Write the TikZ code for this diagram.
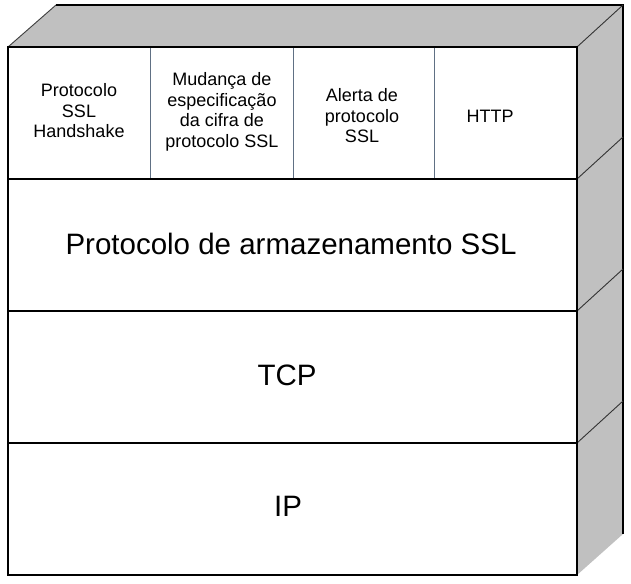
\documentclass[tikz,border=0pt]{standalone}
\usepackage{fontspec}
\setmainfont{Liberation Sans}
\usetikzlibrary{positioning}

\definecolor{facegray}{RGB}{192,192,192}
\definecolor{sepblue}{RGB}{96,112,132}

\tikzset{
    small label/.style={align=center, font=\fontsize{18}{20.5}\selectfont},
    big label/.style={font=\fontsize{29.5}{33}\selectfont},
    frame line/.style={black, line width=1.2pt},
    cell line/.style={sepblue, line width=0.9pt}
}

\begin{document}
\begin{tikzpicture}[x=1pt, y=-1pt]
    \useasboundingbox (0,0) rectangle (631,583);

    % corners of the box
    \coordinate (ftl) at (8,47);
    \coordinate (ftr) at (577,47);
    \coordinate (fbl) at (8,575);
    \coordinate (fbr) at (577,575);
    \coordinate (btl) at (56,5);
    \coordinate (btr) at (623,5);
    \coordinate (bbr) at (623,534);

    % top and side faces
    \fill[facegray] (ftl) -- (btl) -- (btr) -- (ftr) -- cycle;
    \fill[facegray] (ftr) -- (btr) -- (bbr) -- (fbr) -- cycle;
    \draw[line width=0.9pt, black!75] (ftl) -- (btl);
    \draw[frame line] (btl) -- (btr) -- (bbr);
    \draw[line width=0.9pt, black!80] (ftr) -- (btr);

    % front face
    \draw[frame line, fill=white] (ftl) rectangle (fbr);

    % layers
    \foreach \y in {179,311,443} {
        \draw[frame line] (8,\y) -- (577,\y);
        \draw[line width=0.9pt, black!80] (577,\y) -- (623,\y-42);
    }
    \draw[frame line] (ftr) -- (fbr);

    % cells of the top layer
    \foreach \x in {150,293,434} {
        \draw[cell line] (\x,48) -- (\x,178);
    }

    % labels
    \node[small label] (handshake) at (79,111) {Protocolo\\SSL\\Handshake};
    \node[small label] (cipher) at (222,112) {Mudança de\\especificação\\da cifra de\\protocolo SSL};
    \node[small label] (alert) at (362,116) {Alerta de\\protocolo\\SSL};
    \node[small label] (http) at (490,116) {HTTP};

    \node[big label] (record) at (291,244) {Protocolo de armazenamento SSL};
    \node[big label] (tcp) at (287,375) {TCP};
    \node[big label] (ip) at (288,506) {IP};

\end{tikzpicture}
\end{document}
